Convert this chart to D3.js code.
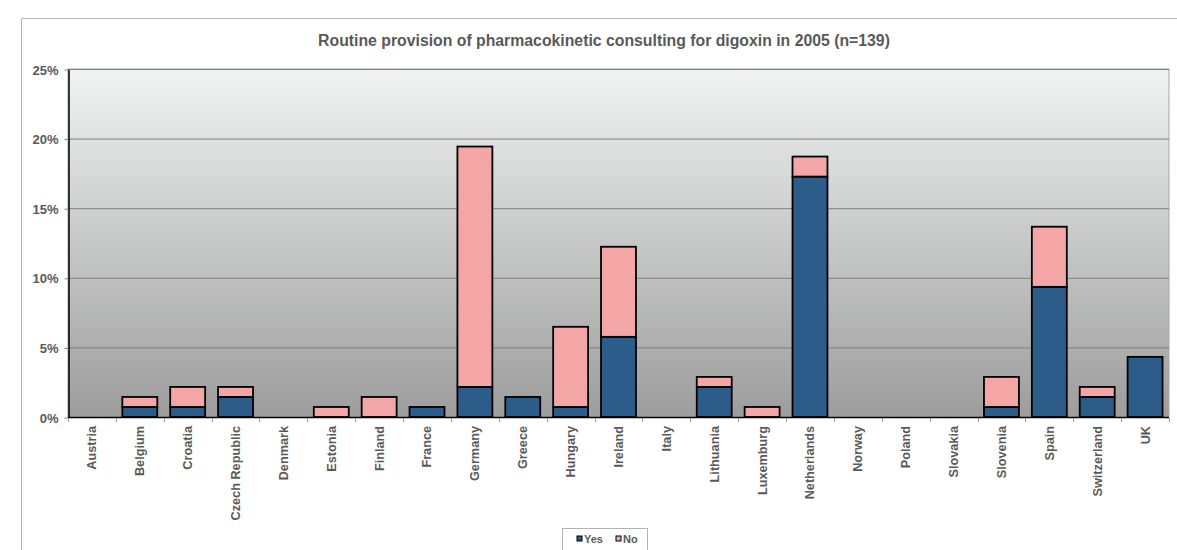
<!DOCTYPE html>
<html>
<head>
<meta charset="utf-8">
<style>
  body { margin: 0; background: #fff; }
  text { font-family: Arial, "Liberation Sans", sans-serif; font-weight: bold; fill: #595959; }
</style>
</head>
<body>
<script src="https://d3js.org/d3.v7.min.js"></script>
<svg id="chart" width="1177" height="550"></svg>
<script>
// data (percent of n=139)
const countries = ["Austria","Belgium","Croatia","Czech Republic","Denmark","Estonia","Finland","France","Germany","Greece","Hungary","Ireland","Italy","Lithuania","Luxemburg","Netherlands","Norway","Poland","Slovakia","Slovenia","Spain","Switzerland","UK"]
const yes = [0, 0.72, 0.72, 1.44, 0, 0, 0, 0.72, 2.16, 1.44, 0.72, 5.76, 0, 2.16, 0, 17.27, 0, 0, 0, 0.72, 9.35, 1.44, 4.32]
const no  = [0, 0.72, 1.44, 0.72, 0, 0.72, 1.44, 0, 17.27, 0, 5.76, 6.47, 0, 0.72, 0.72, 1.44, 0, 0, 0, 2.16, 4.32, 0.72, 0]
const yTicks = [0, 5, 10, 15, 20, 25]
const seriesNames = ["Yes", "No"]

const blue = "#2c5d8a", pink = "#f4a6a6"
const svg = d3.select("#chart")

const pLeft = 68, pRight = 1169, pTop = 69, pBottom = 417

const x = d3.scaleBand().domain(countries).range([pLeft, pRight]).paddingInner(0.27).paddingOuter(0.135)
const xEdge = d3.scaleLinear().domain([0, countries.length]).range([pLeft, pRight])
const y = d3.scaleLinear().domain([0, 25]).range([pBottom, pTop])

// outer frame
svg.append("path")
    .attr("d", "M21.5,550 V18.5 H1177")
    .attr("fill", "none").attr("stroke", "#b3b3b3")

// title
svg.append("text")
    .attr("x", 604).attr("y", 46)
    .attr("text-anchor", "middle")
    .style("font-size", "15.8px")
    .text("Routine provision of pharmacokinetic consulting for digoxin in 2005 (n=139)")

// plot background gradient
const grad = svg.append("defs").append("linearGradient")
    .attr("id", "bg").attr("x1", 0).attr("y1", 0).attr("x2", 0).attr("y2", 1)
grad.append("stop").attr("offset", "0%").attr("stop-color", "#f1f2f2")
grad.append("stop").attr("offset", "100%").attr("stop-color", "#9d9d9d")

svg.append("rect")
    .attr("x", pLeft).attr("y", pTop)
    .attr("width", pRight - pLeft).attr("height", pBottom - pTop)
    .attr("fill", "url(#bg)")
    .attr("stroke", "#a6a6a6")

// gridlines
svg.append("g").selectAll("line.grid")
    .data(yTicks.filter(d => d > 0))
    .enter().append("line")
    .attr("class", "grid")
    .attr("x1", pLeft).attr("x2", pRight)
    .attr("y1", d => y(d) + 0.5).attr("y2", d => y(d) + 0.5)
    .attr("stroke", "#7f7f7f")

// y axis
const yAxis = d3.axisLeft(y).tickValues(yTicks).tickFormat(d => d + "%").tickSize(4).tickSizeOuter(0)
const yG = svg.append("g").attr("transform", "translate(" + (pLeft + 0.5) + ",0.5)").call(yAxis)
yG.select("path").attr("stroke", "#000").attr("stroke-width", 1.5)
yG.selectAll("line").attr("stroke", "#808080")
yG.selectAll("text").attr("x", -10).attr("dy", "0.35em").style("font-size", "13px").style("font-family", null).attr("fill", null)

// stacked bars
const stacked = countries.map((c, i) => ({c: c, yes: yes[i], no: no[i]}))
svg.selectAll("rect.yes")
    .data(stacked.filter(d => d.yes > 0))
    .enter().append("rect")
    .attr("class", "yes")
    .attr("x", d => x(d.c)).attr("width", x.bandwidth())
    .attr("y", d => y(d.yes)).attr("height", d => y(0) - y(d.yes))
    .attr("fill", blue).attr("stroke", "#000").attr("stroke-width", 1.8)
svg.selectAll("rect.no")
    .data(stacked.filter(d => d.no > 0))
    .enter().append("rect")
    .attr("class", "no")
    .attr("x", d => x(d.c)).attr("width", x.bandwidth())
    .attr("y", d => y(d.yes + d.no)).attr("height", d => y(d.yes) - y(d.yes + d.no))
    .attr("fill", pink).attr("stroke", "#000").attr("stroke-width", 1.8)

// x axis line and boundary ticks
svg.append("line")
    .attr("x1", pLeft).attr("x2", pRight)
    .attr("y1", pBottom + 0.5).attr("y2", pBottom + 0.5)
    .attr("stroke", "#000").attr("stroke-width", 1.5)
svg.append("g").selectAll("line")
    .data(d3.range(countries.length + 1))
    .enter().append("line")
    .attr("x1", d => Math.round(xEdge(d)) + 0.5).attr("x2", d => Math.round(xEdge(d)) + 0.5)
    .attr("y1", pBottom + 1).attr("y2", pBottom + 5)
    .attr("stroke", "#9a9a9a")

// x labels
const xAxis = d3.axisBottom(x).tickSize(0)
const xG = svg.append("g").attr("transform", "translate(0," + pBottom + ")").call(xAxis)
xG.select("path").remove()
xG.selectAll("text")
    .attr("transform", "rotate(-90)")
    .attr("x", -9).attr("y", 0).attr("dy", "0.35em")
    .attr("text-anchor", "end")
    .style("font-size", "12.7px").style("font-family", null).attr("fill", null)

// legend
const lg = svg.append("g")
lg.append("rect")
    .attr("x", 562.5).attr("y", 528.5).attr("width", 85).attr("height", 25)
    .attr("fill", "#fff").attr("stroke", "#b3b3b3")
const items = lg.selectAll("g.item")
    .data(seriesNames)
    .enter().append("g")
    .attr("class", "item")
    .attr("transform", (d, i) => "translate(" + (577 + i * 39) + ",536)")
items.append("rect")
    .attr("width", 5).attr("height", 5)
    .attr("fill", (d, i) => i === 0 ? blue : pink)
    .attr("stroke", "#000").attr("stroke-width", 1)
items.append("text")
    .attr("x", 7).attr("y", 7)
    .style("font-size", "11px")
    .text(d => d)
</script>
</body>
</html>
